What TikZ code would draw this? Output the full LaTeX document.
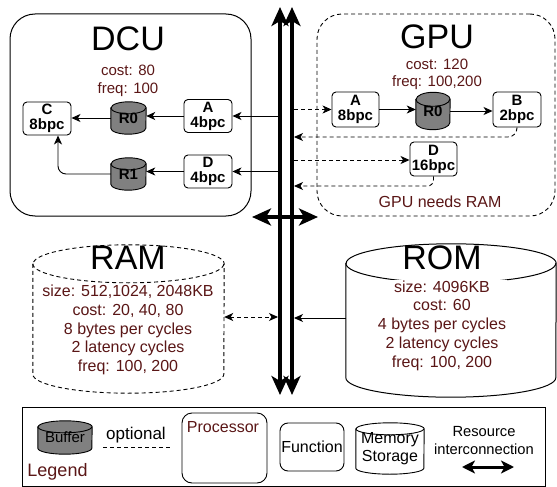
\documentclass[tikz,border=0pt]{standalone}
\usepackage{fontspec}
\setmainfont{Liberation Sans}
\usetikzlibrary{arrows.meta,calc}
\definecolor{dred}{RGB}{90,22,22}
\definecolor{bufgray}{RGB}{128,128,128}
\pgfdeclarelayer{bg}
\pgfsetlayers{bg,main}
\newcommand\cylaround[4]{%
  \begin{pgfonlayer}{bg}
  \draw[#4] ([yshift=-#3]#1.north west) -- ([yshift=#3]#1.south west)
    arc[start angle=180,end angle=360,x radius=#2,y radius=#3]
    -- ([yshift=-#3]#1.north east)
    arc[start angle=0,end angle=180,x radius=#2,y radius=#3] -- cycle;
  \draw[#4,fill=none] ([yshift=-#3]#1.north west)
    arc[start angle=180,end angle=360,x radius=#2,y radius=#3];
  \end{pgfonlayer}}
\begin{document}
\begin{tikzpicture}[x=1pt,y=-1pt,
  fbox/.style={draw, line width=0.9pt, rounded corners=4pt, inner sep=0pt, align=center,
    font=\bfseries\fontsize{15}{15}\selectfont, minimum width=47pt, minimum height=33pt},
  cylbox/.style={inner sep=0pt, align=center, font=\bfseries\fontsize{15}{15}\selectfont},
  bufstyle/.style={draw, line width=0.9pt, fill=bufgray},
  info/.style={text=dred, align=center, inner sep=0pt, font=\fontsize{15}{17.5}\selectfont},
  meminfo/.style={text=dred, align=center, fill=white, inner sep=1pt, font=\fontsize{16}{18.7}\selectfont},
  bigtitle/.style={inner sep=0pt, font=\fontsize{34}{34}\selectfont},
  dsh/.style={dash pattern=on 4pt off 3pt},
  sarr/.style={line width=0.9pt, -{Stealth[length=9pt,width=8pt,inset=2.5pt]}},
  darr/.style={line width=0.9pt, {Stealth[length=9pt,width=8pt,inset=2.5pt]}-{Stealth[length=9pt,width=8pt,inset=2.5pt]}},
  bus/.style={line width=3.5pt, {Stealth[length=19pt,width=17pt,inset=5pt]}-{Stealth[length=19pt,width=17pt,inset=5pt]}},
]
\useasboundingbox (0,0) rectangle (557,487);

% bus coordinates
\coordinate (b1t) at (280,7);
\coordinate (b1b) at (280,395);
\coordinate (b2t) at (292,7);
\coordinate (b2b) at (292,395);
\coordinate (b1w) at (278,0);
\coordinate (b2e) at (294,0);
\coordinate (hl) at (252,217);
\coordinate (hr) at (318,217);
\draw[bus] (b1b) -- (b1t);
\draw[bus] (b2b) -- (b2t);
\draw[bus] (hl) -- (hr);

% DCU
\node[draw, line width=1pt, rounded corners=25pt, minimum width=241pt, minimum height=202pt] (dcu) at (130.5,115) {};
\node[bigtitle] (dcut) at (128,38.5) {DCU};
\node[info] (dcui) at (128,81) {cost: 80\\freq: 100};
\node[fbox, minimum width=48pt] (dC) at (47,118.5) {C\\8bpc};
\node[cylbox, minimum width=35pt, minimum height=32pt] (dR0) at (128.5,118) {\raisebox{-3pt}{R0}};
\cylaround{dR0}{17.5pt}{6pt}{bufstyle}
\node[fbox, minimum width=48pt] (dA) at (208,116) {A\\4bpc};
\node[cylbox, minimum width=35pt, minimum height=32pt] (dR1) at (128.5,174) {\raisebox{-3pt}{R1}};
\cylaround{dR1}{17.5pt}{6pt}{bufstyle}
\node[fbox, minimum width=48pt] (dD) at (208,171.5) {D\\4bpc};
\draw[sarr] (dA.west) -- (dA.west -| dR0.east);
\draw[sarr] (dR0.west) -- (dR0.west -| dC.east);
\draw[sarr] (dD.west) -- (dD.west -| dR1.east);
\draw[sarr, rounded corners=8pt] (dR1.west) -| ([xshift=11pt]dC.south);
\draw[sarr] (dA.east -| b1w) -- (dA.east);
\draw[sarr] (dD.east -| b1w) -- (dD.east);

% GPU
\node[draw, dsh, line width=0.9pt, rounded corners=25pt, minimum width=238pt, minimum height=202pt] (gpu) at (436,115) {};
\node[bigtitle] (gput) at (437,37) {GPU};
\node[info] (gpui) at (437,74.5) {cost: 120\\freq: 100,200};
\node[fbox, minimum height=35pt] (gA) at (355.5,109.5) {A\\8bpc};
\node[cylbox, minimum width=34pt, minimum height=37pt] (gR0) at (433,111) {\raisebox{-3pt}{R0}};
\cylaround{gR0}{17pt}{7pt}{bufstyle}
\node[fbox, minimum width=48pt, minimum height=35pt] (gB) at (517,109.5) {B\\2bpc};
\node[fbox, minimum height=34pt] (gD) at (433.5,159) {D\\16bpc};
\node[info, font=\fontsize{16}{18}\selectfont] (gpun) at (440,202) {GPU needs RAM};
\coordinate (gret1) at (294,137);
\coordinate (gret2) at (294,186);
\draw[sarr] (gA.east) -- (gA.east -| gR0.west);
\draw[sarr] (gR0.east) -- (gR0.east -| gB.west);
\draw[sarr, dsh] (gA.west -| b2e) -- (gA.west);
\draw[sarr, dsh] ([yshift=-1pt]gD.west -| b2e) -- ([yshift=-1pt]gD.west);
\draw[sarr, dsh, rounded corners=9pt] (gB.south) |- (gret1);
\draw[sarr, dsh, rounded corners=6pt] (gD.south) |- (gret2);

% RAM
\node[minimum width=191pt, minimum height=148pt, inner sep=0pt] (ram) at (128.5,319) {};
\cylaround{ram}{95.5pt}{19pt}{draw, dsh, line width=0.9pt}
\node[bigtitle] (ramt) at (128,258) {RAM};
\node[meminfo] (rami) at (128,330) {size: 512,1024, 2048KB\\cost: 20, 40, 80\\8 bytes per cycles\\2 latency cycles\\freq: 100, 200};
\coordinate (ramarr) at (278,317);
\draw[darr, dsh] (ramarr -| ram.east) -- (ramarr);

% ROM
\node[minimum width=210pt, minimum height=153pt, inner sep=0pt] (rom) at (451,320.5) {};
\cylaround{rom}{105pt}{19.5pt}{draw, line width=1pt, fill=white}
\node[bigtitle] (romt) at (442,258) {ROM};
\node[meminfo] (romi) at (442,325.5) {size: 4096KB\\cost: 60\\4 bytes per cycles\\2 latency cycles\\freq: 100, 200};
\coordinate (romarr) at (294,318);
\draw[sarr] (romarr -| rom.west) -- (romarr);

% Legend
\node[draw, line width=0.9pt, minimum width=523pt, minimum height=79pt] (leg) at (283.5,446.5) {};
\node[minimum width=54pt, minimum height=33pt, inner sep=0pt, font=\fontsize{15}{15}\selectfont] (lbuf) at (65,437.5) {\raisebox{-2pt}{Buffer}};
\cylaround{lbuf}{27pt}{6pt}{bufstyle}
\node[font=\fontsize{17}{17}\selectfont] (lopt) at (136,435) {optional};
\coordinate (lo1) at (103,447);
\coordinate (lo2) at (172,447);
\draw[dsh, line width=0.9pt] (lo1) -- (lo2);
\node[text=dred, font=\fontsize{18}{18}\selectfont] (legt) at (57.5,472) {Legend};
\node[draw, line width=0.9pt, rounded corners=10pt, minimum width=85pt, minimum height=70pt] (lproc) at (224.5,448) {};
\node[text=dred, font=\fontsize{16}{16}\selectfont] (lproct) at (223,427) {Processor};
\node[draw, line width=0.9pt, rounded corners=8pt, minimum width=64pt, minimum height=48pt, inner sep=0pt, font=\fontsize{16}{16}\selectfont] (lfun) at (312,447) {Function};
\node[minimum width=68pt, minimum height=51pt, inner sep=0pt, align=center, font=\fontsize{16}{18}\selectfont] (lmem) at (390,448.5) {Memory\\Storage};
\cylaround{lmem}{34pt}{6pt}{draw, line width=0.9pt, fill=white}
\node[align=center, font=\fontsize{14.7}{18}\selectfont] (lres) at (484,441) {Resource\\interconnection};
\coordinate (lr1) at (462,467);
\coordinate (lr2) at (514,467);
\draw[line width=3pt, {Stealth[length=13pt,width=13pt,inset=3.5pt]}-{Stealth[length=13pt,width=13pt,inset=3.5pt]}] (lr1) -- (lr2);
\end{tikzpicture}
\end{document}
